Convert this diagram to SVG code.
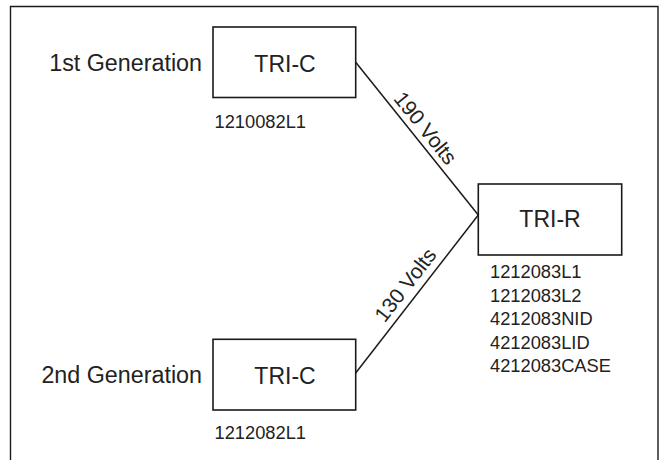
<svg xmlns="http://www.w3.org/2000/svg" width="660" height="460" viewBox="0 0 660 460">
  <style>
    .frame { fill: none; stroke: #1a1a1a; stroke-width: 1.4; }
    .box { fill: #ffffff; stroke: #1a1a1a; stroke-width: 1.6; }
    .wire { fill: none; stroke: #1a1a1a; stroke-width: 1.5; }
    text { font-family: "Liberation Sans", Arial, sans-serif; fill: #222222; }
    .title { font-size: 23px; text-anchor: middle; }
    .gen { font-size: 23.3px; text-anchor: end; }
    .part { font-size: 18.3px; }
    .volts { font-size: 21px; text-anchor: middle; }
  </style>

  <rect width="660" height="460" fill="#ffffff"/>

  <!-- open frame: top and sides only -->
  <path class="frame" d="M10.5,462 V6.5 H658 V462"/>

  <!-- connectors -->
  <g id="connectors">
    <line class="wire" x1="355.7" y1="62.3" x2="478.3" y2="215"/>
    <line class="wire" x1="355.7" y1="373" x2="478.3" y2="215"/>
    <text class="volts" transform="translate(417,138.7) rotate(51.3)" x="-3" y="-6">190 Volts</text>
    <text class="volts" transform="translate(417,294) rotate(-52.3)" x="0" y="-7.5">130 Volts</text>
  </g>

  <!-- first generation controller -->
  <g id="tri-c-1">
    <text class="gen" x="202" y="71">1st Generation</text>
    <rect class="box" x="213" y="27" width="142.7" height="70.5"/>
    <text class="title" x="285" y="71.5">TRI-C</text>
    <text class="part" x="214.5" y="127.7">1210082L1</text>
  </g>

  <!-- second generation controller -->
  <g id="tri-c-2">
    <text class="gen" x="202" y="383.3">2nd Generation</text>
    <rect class="box" x="213" y="339.3" width="142.7" height="70.7"/>
    <text class="title" x="285" y="383.5">TRI-C</text>
    <text class="part" x="214.5" y="439">1212082L1</text>
  </g>

  <!-- receiver -->
  <g id="tri-r">
    <rect class="box" x="478.3" y="184" width="143.4" height="71"/>
    <text class="title" x="550" y="226.7">TRI-R</text>
    <text class="part" x="490" y="278.3">1212083L1</text>
    <text class="part" x="490" y="301.7">1212083L2</text>
    <text class="part" x="490" y="325.3">4212083NID</text>
    <text class="part" x="490" y="348.8">4212083LID</text>
    <text class="part" x="490" y="372.3">4212083CASE</text>
  </g>
</svg>
